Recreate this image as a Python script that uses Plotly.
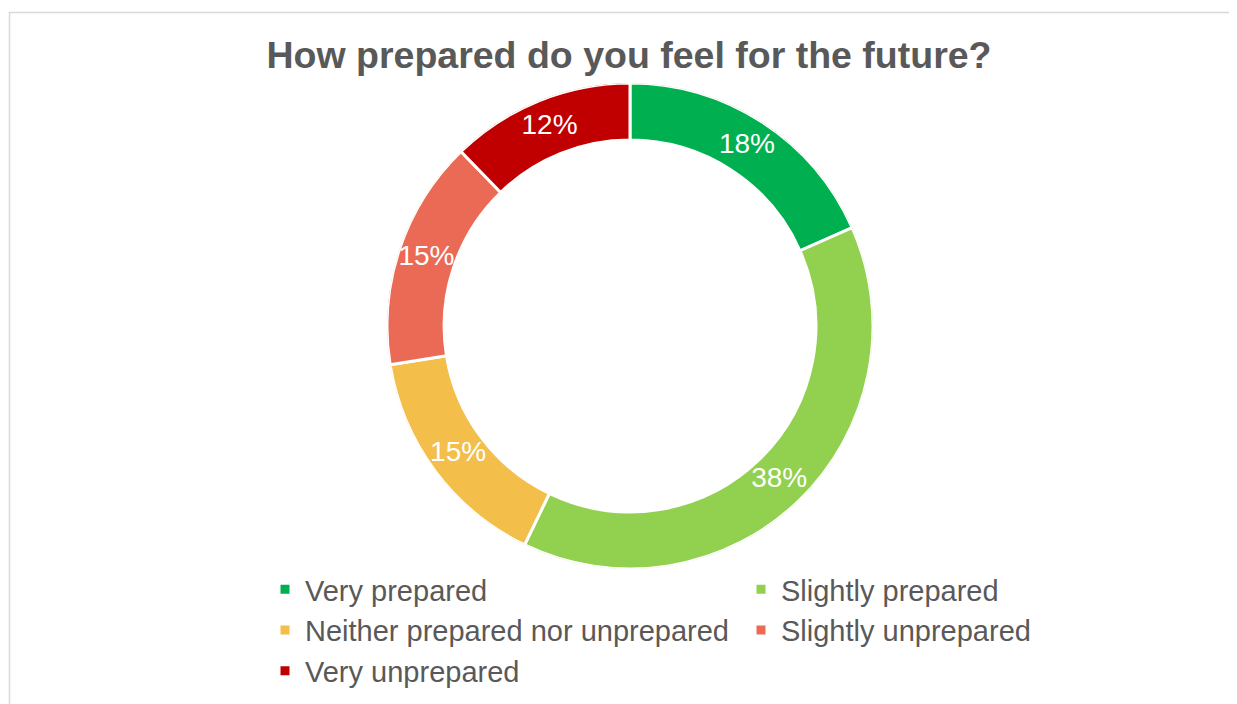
import plotly.graph_objects as go

W, H = 1237, 704
OFF = 8  # page body margin in the browser shot

categories = [
    "Very prepared",
    "Slightly prepared",
    "Neither prepared nor unprepared",
    "Slightly unprepared",
    "Very unprepared",
]
values = [18, 38, 15, 15, 12]
labels = ["18%", "38%", "15%", "15%", "12%"]
colors = ["#00B050", "#92D050", "#F4BE4A", "#EB6A55", "#C00000"]

hole = 0.765
cx, cy, r = 630 - OFF, 326 - OFF, 243
dom = dict(
    x=[(cx - r) / W, (cx + r) / W],
    y=[1 - (cy + r) / H, 1 - (cy - r) / H],
)

# slice spans in degrees, clockwise from 12 o'clock
total = sum(values)
spans = [v / total * 360 for v in values]
mids = []
run = 0
for s in spans:
    mids.append(run + s / 2)
    run += s

fig = go.Figure()
for name, mid, span, col in zip(categories, mids, spans, colors):
    fig.add_trace(
        go.Barpolar(
            name=name,
            theta=[mid],
            width=[span],
            r=[1 - hole],
            base=[hole],
            marker=dict(color=col, line=dict(color="white", width=3)),
            hoverinfo="skip",
        )
    )
fig.add_trace(
    go.Scatterpolar(
        r=[(1 + hole) / 2] * len(values),
        theta=mids,
        text=labels,
        mode="text",
        textfont=dict(color="white", size=28, family="Liberation Sans, Arial"),
        showlegend=False,
        hoverinfo="skip",
    )
)

fig.update_layout(
    width=W,
    height=H,
    margin=dict(l=0, r=0, t=0, b=0, autoexpand=False),
    paper_bgcolor="white",
    font=dict(family="Liberation Sans, Arial", color="#595959"),
    polar=dict(
        domain=dom,
        bgcolor="rgba(0,0,0,0)",
        radialaxis=dict(visible=False, range=[0, 1]),
        angularaxis=dict(visible=False, rotation=90, direction="clockwise"),
    ),
    title=dict(
        text="<b>How prepared do you feel for the future?</b>",
        x=(629 - OFF) / W,
        xanchor="center",
        y=1 - (55 - OFF) / H,
        yanchor="middle",
        font=dict(size=37.5, color="#595959"),
    ),
    legend=dict(
        orientation="h",
        x=(285 - OFF - 20) / W,
        xanchor="left",
        y=1 - 556 / H,
        yanchor="top",
        entrywidth=431,
        bgcolor="rgba(0,0,0,0)",
        font=dict(size=29, color="#595959"),
        traceorder="normal",
    ),
    shapes=[
        dict(
            type="rect",
            xref="paper",
            yref="paper",
            x0=(9.5 - OFF) / W,
            x1=1.05,
            y0=-0.05,
            y1=1 - (12.5 - OFF) / H,
            line=dict(color="#D9D9D9", width=1.5),
        )
    ],
)

fig.write_html("out.html")
